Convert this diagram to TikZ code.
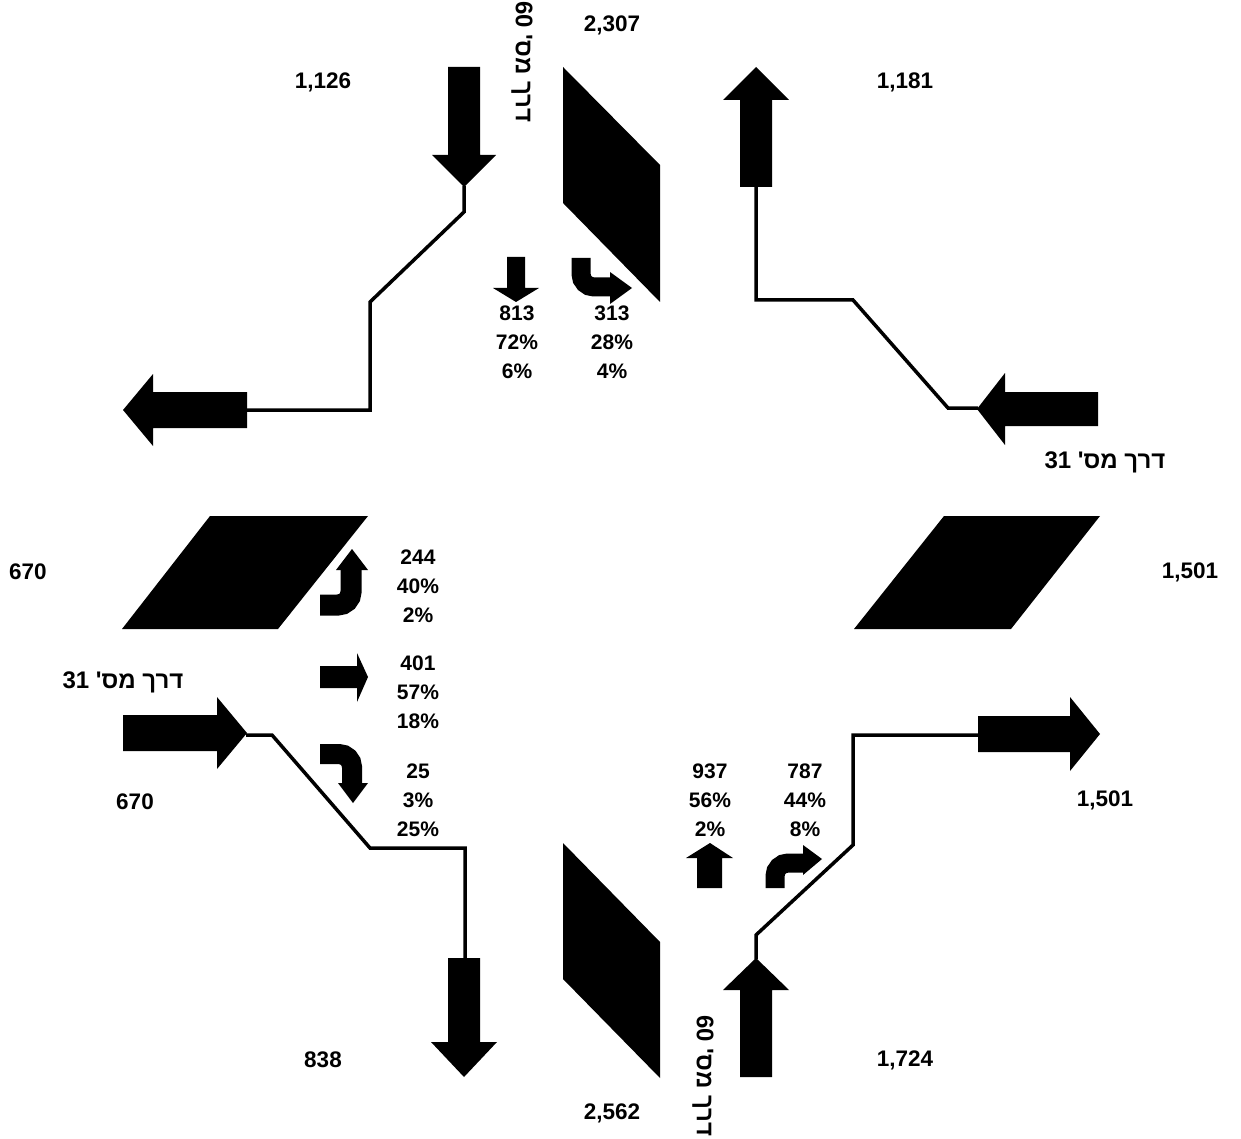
\documentclass[tikz,border=0pt]{standalone}
\usepackage{fontspec}
\setmainfont{Liberation Sans}
\newfontfamily\heb[Script=Hebrew]{Liberation Sans}
\TeXXeTstate=1
\begin{document}
\begin{tikzpicture}[x=1pt,y=-1pt,
  lbl/.style={font=\fontsize{21}{29}\selectfont\bfseries, inner sep=0pt, align=center},
  vol/.style={font=\fontsize{22.5}{29}\selectfont\bfseries, inner sep=0pt},
  rname/.style={font=\fontsize{24}{29}\selectfont\bfseries\heb, inner sep=0pt},
  road/.style={line width=3.5pt, line join=miter},
  turnarrow/.style={line width=19pt, rounded corners=13pt},
  blk/.style={fill=black, draw=none}]
\useasboundingbox (0,0) rectangle (1241,1139);

% crossing blocks
\fill[blk] (563,67) -- (660,165) -- (660,302) -- (563,203) -- cycle;
\fill[blk] (563,843) -- (660,942) -- (660,1078) -- (563,979) -- cycle;
\fill[blk] (210,516) -- (368,516) -- (278,629) -- (122,629) -- cycle;
\fill[blk] (944,516) -- (1100,516) -- (1011,629) -- (854,629) -- cycle;

% north approach (down arrow) and west exit
\fill[blk] (448,67) -- (480,67) -- (480,155) -- (496,155) -- (464,187) -- (432,155) -- (448,155) -- cycle;
\fill[blk] (247,392) -- (247,428) -- (153,428) -- (153,446) -- (123,410) -- (153,374) -- (153,392) -- cycle;
\coordinate (n1) at (464,186);
\coordinate (w1) at (246,410);
\draw[road] (n1) -- (464,212) -- (370,302) -- (370,410) -- (w1);

% north exit (up arrow) and east approach
\fill[blk] (740,187) -- (740,100) -- (723,100) -- (756,67) -- (789,100) -- (772,100) -- (772,187) -- cycle;
\fill[blk] (1098,392) -- (1098,426) -- (1005,426) -- (1005,445) -- (977,409) -- (1005,373) -- (1005,392) -- cycle;
\coordinate (n2) at (756,186);
\coordinate (e2) at (978,408);
\draw[road] (n2) -- (756,300) -- (853,300) -- (948,408) -- (e2);

% west approach and south exit
\fill[blk] (123,715) -- (217,715) -- (217,697) -- (247,733) -- (217,769) -- (217,751) -- (123,751) -- cycle;
\fill[blk] (448,958) -- (480,958) -- (480,1042) -- (497,1042) -- (464,1077) -- (431,1042) -- (448,1042) -- cycle;
\coordinate (w3) at (246,735);
\coordinate (s3) at (465,959);
\draw[road] (w3) -- (272,735) -- (370,848) -- (465,848) -- (s3);

% south approach and east exit
\fill[blk] (740,1077) -- (740,990) -- (723,990) -- (756,958) -- (789,990) -- (772,990) -- (772,1077) -- cycle;
\fill[blk] (978,716) -- (1070,716) -- (1070,697) -- (1100,734) -- (1070,771) -- (1070,752) -- (978,752) -- cycle;
\coordinate (s4) at (756,959);
\coordinate (e4) at (979,735);
\draw[road] (s4) -- (756,935) -- (853,845) -- (853,735) -- (e4);

% movement arrows
\fill[blk] (507,257) -- (525,257) -- (525,288) -- (539,288) -- (516,302) -- (493,288) -- (507,288) -- cycle;
\draw[turnarrow] (581,258) -- (581,287) -- (611,287);
\fill[blk] (610,272) -- (632,288) -- (610,304) -- cycle;

\draw[turnarrow, line width=21pt] (320,605) -- (351,605) -- (351,569);
\fill[blk] (336,570) -- (352,549) -- (368,570) -- cycle;
\fill[blk] (320,666) -- (357,666) -- (357,653) -- (368,677) -- (357,702) -- (357,688) -- (320,688) -- cycle;
\draw[turnarrow, line width=20pt] (320,754) -- (352,754) -- (352,784);
\fill[blk] (338,783) -- (368,783) -- (353,803) -- cycle;

\fill[blk] (697,888) -- (697,858) -- (686,858) -- (710,843) -- (733,858) -- (722,858) -- (722,888) -- cycle;
\draw[turnarrow] (775,888) -- (775,863) -- (804,863);
\fill[blk] (803,845) -- (822,859) -- (803,875) -- cycle;

% movement labels
\node[lbl] (m1) at (517,342) {813\\72\%\\6\%};
\node[lbl] (m2) at (612,342) {313\\28\%\\4\%};
\node[lbl] (m3) at (418,586) {244\\40\%\\2\%};
\node[lbl] (m4) at (418,692) {401\\57\%\\18\%};
\node[lbl] (m5) at (418,800) {25\\3\%\\25\%};
\node[lbl] (m6) at (710,800) {937\\56\%\\2\%};
\node[lbl] (m7) at (805,800) {787\\44\%\\8\%};

% volumes
\node[vol] (v1) at (323,82) {1,126};
\node[vol] (v2) at (612,25) {2,307};
\node[vol] (v3) at (905,82) {1,181};
\node[vol] (v4) at (28,572) {670};
\node[vol] (v5) at (1190,572) {1,501};
\node[vol] (v6) at (135,802) {670};
\node[vol] (v7) at (1105,800) {1,501};
\node[vol] (v8) at (323,1060) {838};
\node[vol] (v9) at (612,1113) {2,562};
\node[vol] (v10) at (905,1060) {1,724};

% road names
\node[rname] (r1) at (1105,462) {\beginR דרך מס' \beginL 31\endL\endR};
\node[rname] (r2) at (123,682) {\beginR דרך מס' \beginL 31\endL\endR};
\node[rname, rotate=-90] (r3) at (522,62) {\beginR דרך מס' \beginL 60\endL\endR};
\node[rname, rotate=-90] (r4) at (703,1076) {\beginR דרך מס' \beginL 60\endL\endR};
\end{tikzpicture}
\end{document}
